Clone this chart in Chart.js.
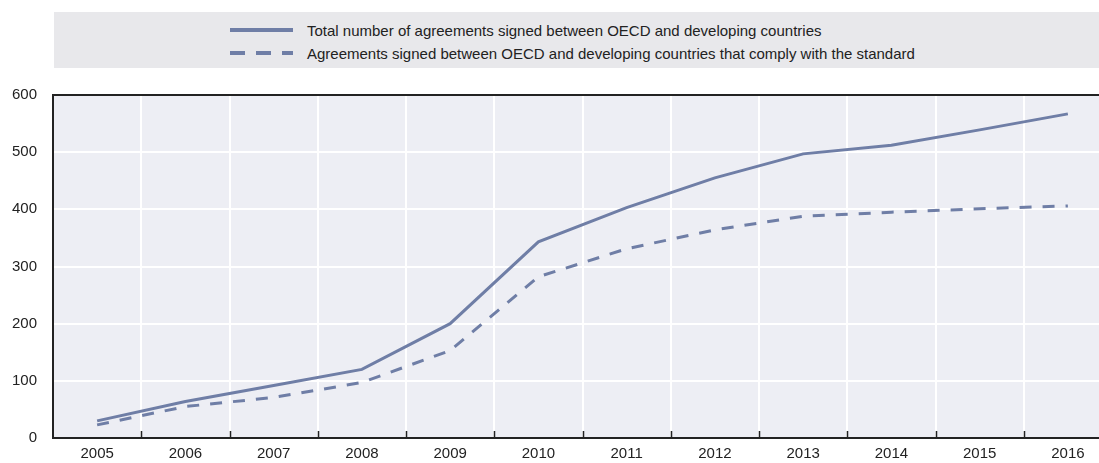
<!DOCTYPE html>
<html>
<head>
<meta charset="utf-8">
<script src="https://cdn.jsdelivr.net/npm/chart.js@4.4.1/dist/chart.umd.min.js"></script>
<style>
  html, body { margin: 0; padding: 0; background: #ffffff; overflow: hidden; width: 1099px; height: 463px; }
  #wrap { position: relative; width: 1099px; height: 463px; overflow: hidden; }
  #legend { position: absolute; left: 54px; top: 12px; width: 1045px; height: 56px; background: #e8e8eb; font-family: "Liberation Sans", Arial, sans-serif; font-size: 15px; color: #222; }
  .item { position: absolute; left: 176px; height: 18px; display: flex; align-items: center; white-space: nowrap; }
  .item svg { margin-right: 14px; }
  #chartBox { position: absolute; left: 0; top: 0; width: 1112px; height: 463px; }
</style>
</head>
<body>
<div id="wrap">
  <div id="legend">
    <div class="item" style="top:9px"><svg width="63" height="6"><line x1="0" y1="3" x2="63" y2="3" stroke="#6f7ea6" stroke-width="4"/></svg><span id="lab0"></span></div>
    <div class="item" style="top:32px"><svg width="63" height="6"><line x1="0" y1="3" x2="63" y2="3" stroke="#6f7ea6" stroke-width="4" stroke-dasharray="15 11"/></svg><span id="lab1"></span></div>
  </div>
  <div id="chartBox"><canvas id="c" width="1112" height="463"></canvas></div>
</div>
<script>
const years = ['2005','2006','2007','2008','2009','2010','2011','2012','2013','2014','2015','2016'];
const totalAgreements = [30, 64, 92, 120, 200, 343, 403, 455, 497, 512, 539, 567];
const compliantAgreements = [23, 55, 71, 97, 153, 282, 331, 364, 388, 395, 401, 406];
const seriesNames = [
  'Total number of agreements signed between OECD and developing countries',
  'Agreements signed between OECD and developing countries that comply with the standard'
];
const yTicks = [0, 100, 200, 300, 400, 500, 600];

document.getElementById('lab0').textContent = seriesNames[0];
document.getElementById('lab1').textContent = seriesNames[1];

const LINE = '#6f7ea6';
const AXIS = '#222222';
const FONT = { family: '"Liberation Sans", Arial, sans-serif', size: 15 };

const framePlugin = {
  id: 'frame',
  beforeDraw(chart) {
    const a = chart.chartArea, ctx = chart.ctx;
    ctx.save();
    ctx.fillStyle = '#edeef4';
    ctx.fillRect(a.left, a.top, a.right - a.left, a.bottom - a.top);
    ctx.restore();
  },
  beforeDatasetsDraw(chart) {
    const a = chart.chartArea, ctx = chart.ctx;
    const xs = chart.scales.x;
    ctx.save();
    ctx.strokeStyle = AXIS;
    ctx.lineWidth = 2;
    ctx.beginPath();
    ctx.moveTo(a.right + 2, a.top);
    ctx.lineTo(a.left, a.top);
    ctx.lineTo(a.left, a.bottom);
    ctx.lineTo(a.right + 2, a.bottom);
    ctx.stroke();
    ctx.lineWidth = 1.5;
    ctx.beginPath();
    for (let i = 0; i < years.length - 1; i++) {
      const x = Math.round((xs.getPixelForValue(i) + xs.getPixelForValue(i + 1)) / 2) + 0.5;
      ctx.moveTo(x, a.bottom);
      ctx.lineTo(x, a.bottom - 7);
    }
    ctx.stroke();
    ctx.restore();
  }
};

new Chart(document.getElementById('c'), {
  type: 'line',
  data: {
    labels: years,
    datasets: [
      { label: seriesNames[0], data: totalAgreements, borderColor: LINE, borderWidth: 3, pointRadius: 0, tension: 0, fill: false },
      { label: seriesNames[1], data: compliantAgreements, borderColor: LINE, borderWidth: 3, borderDash: [12, 11], pointRadius: 0, tension: 0, fill: false }
    ]
  },
  options: {
    responsive: false,
    animation: false,
    events: [],
    layout: { padding: { top: 95, left: 0, right: 0, bottom: 0 } },
    plugins: { legend: { display: false }, tooltip: { enabled: false } },
    scales: {
      x: {
        type: 'category',
        offset: true,
        grid: { offset: true, color: '#ffffff', lineWidth: 2, drawTicks: false },
        border: { display: false },
        ticks: { color: AXIS, font: FONT, padding: 7, maxRotation: 0, autoSkip: false },
        afterFit(s) { s.height = 23; }
      },
      y: {
        min: 0, max: 600,
        afterBuildTicks(s) { s.ticks = yTicks.map(v => ({ value: v })); },
        grid: { color: '#ffffff', lineWidth: 2, drawTicks: false },
        border: { display: false },
        ticks: { color: AXIS, font: FONT, padding: 16 },
        afterFit(s) { s.width = 53; }
      }
    }
  },
  plugins: [framePlugin]
});
</script>
</body>
</html>
